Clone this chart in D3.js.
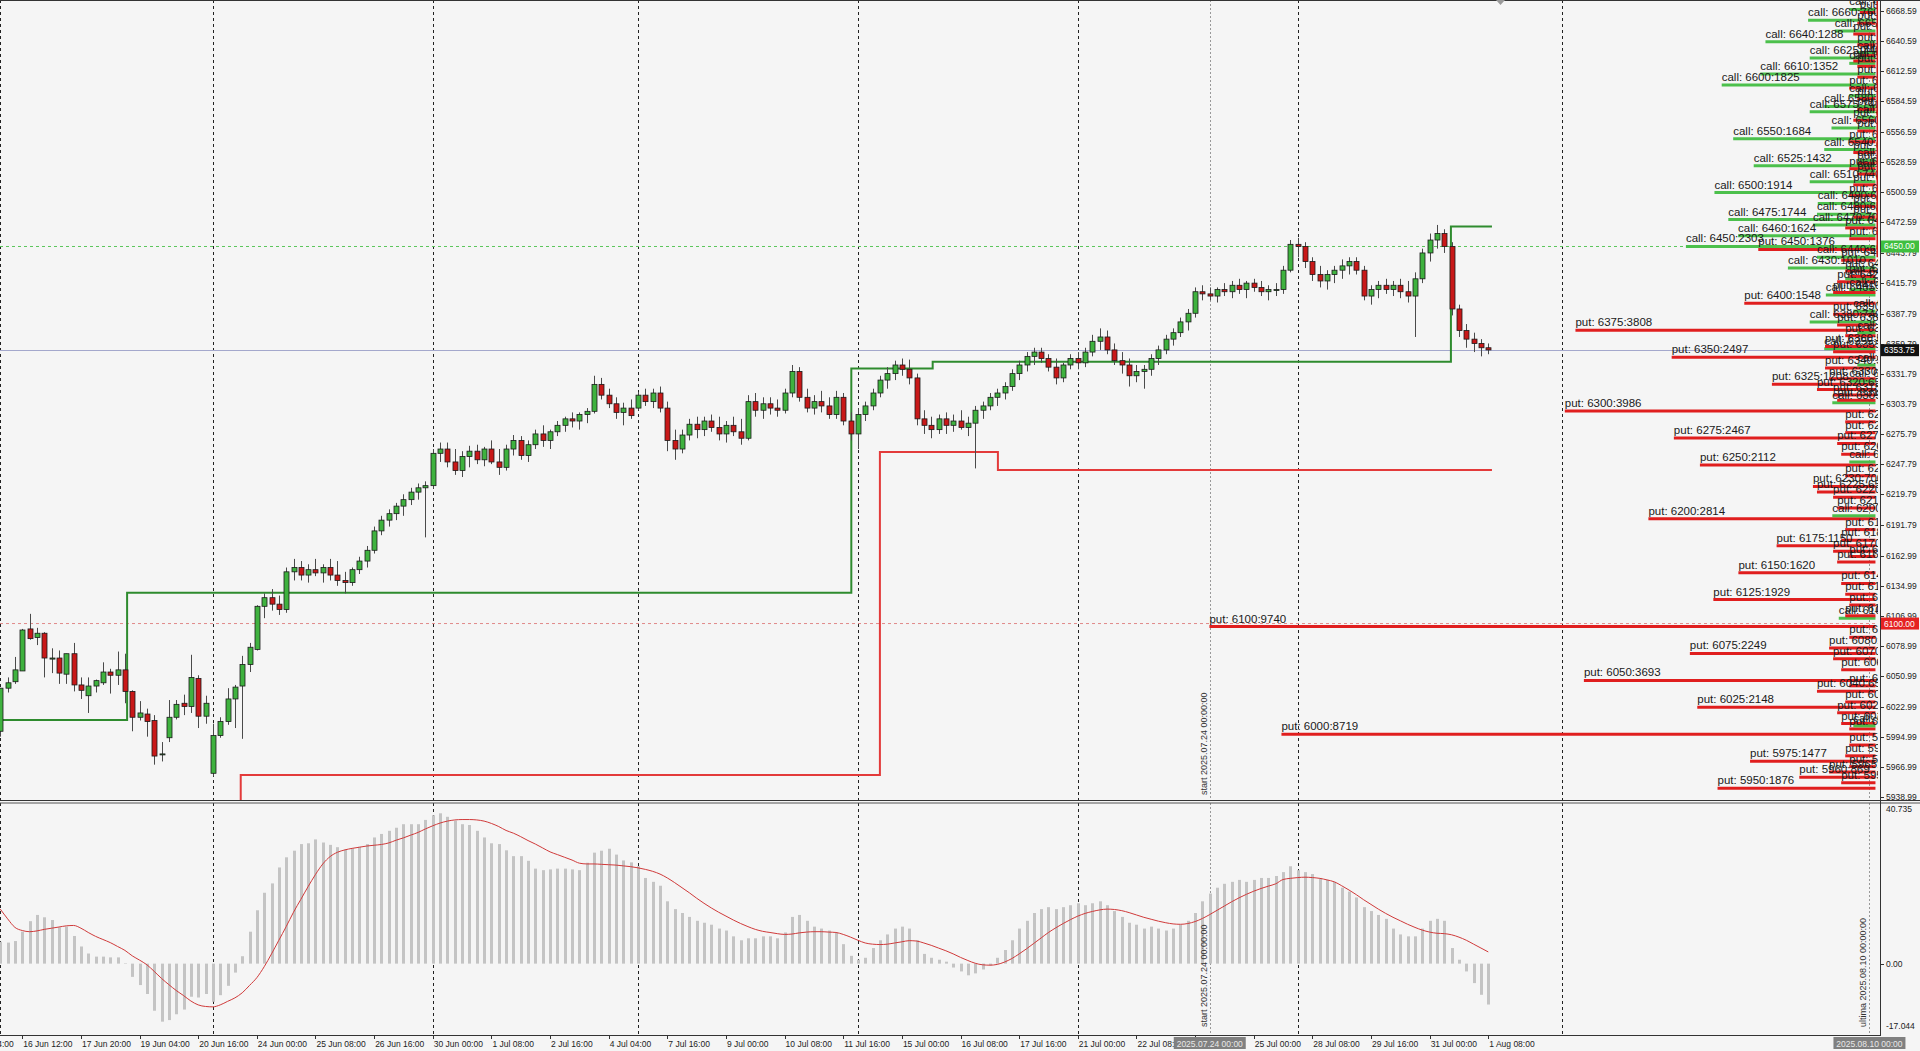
<!DOCTYPE html>
<html><head><meta charset="utf-8">
<script src="https://cdn.jsdelivr.net/npm/d3@7"></script>
<style>
html,body{margin:0;padding:0;background:#f5f5f5;}
svg{display:block;font-family:"Liberation Sans",Arial,sans-serif;}
</style></head>
<body><svg id="chart" width="1920" height="1051"></svg>
<script>
// ---------------- DATA ----------------
const opens = [6000,6040,6046,6056,6095,6087,6091,6067,6068,6053,6072,6043,6033,6042,6045,6055,6052,6057,6037,6013,6016,6010,5979,5994,6013,6026,6023,6049,6014,5961,5996,6009,6030,6042,6062,6076,
6116,6124,6118,6113,6148,6152,6145,6150,6147,6152,6145,6140,6138,6150,6158,6168,6186,6196,6202,6209,6215,6222,6226,6228,6258,6262,6250,6242,6255,6260,6252,6262,6250,6245,6262,6270,6256,6266,6276,6270,6278,6284,6290,6288,6294,6297,6322,6312,6304,6296,6300,6300,6312,6306,6314,6300,6270,6262,6275,6285,6280,6288,6282,6276,6284,6278,6272,6306,6298,6304,6300,6298,6314,6334,6310,6300,6306,6302,6294,6310,6288,6276,6294,6302,6314,6326,6332,6340,6336,6328,6290,6284,6280,6290,6284,6288,6282,6286,6298,6302,6310,6314,6320,6332,6340,6348,6352,6346,6338,6328,6340,6346,6342,6352,6362,6366,6354,6344,6340,6330,6334,6336,6346,6354,6364,6370,6380,6388,6408,6406,6404,6410,6408,6414,6410,6416,6412,6408,6410,6410,6428,6452,6450,6436,6424,6418,6424,6428,6432,6436,6428,6404,6410,6414,6410,6414,6408,6404,6420,6444,6456,6462,6450,6392,6372,6364,6360,6356];
const highs = [6040,6050,6069,6095,6109,6096,6092,6077,6075,6072,6082,6050,6050,6048,6064,6058,6074,6072,6038,6028,6021,6015,5990,6029,6029,6034,6071,6052,6033,6007,6013,6040,6043,6070,6082,6117,
6128,6132,6126,6152,6160,6158,6155,6160,6155,6160,6158,6148,6152,6162,6172,6190,6200,6206,6212,6220,6226,6230,6232,6262,6268,6268,6262,6260,6265,6266,6264,6270,6262,6266,6275,6274,6270,6280,6284,6280,6288,6292,6296,6296,6300,6330,6328,6318,6310,6305,6308,6315,6318,6318,6320,6306,6280,6280,6290,6292,6292,6294,6292,6288,6292,6290,6312,6314,6310,6310,6308,6318,6340,6338,6318,6312,6316,6310,6316,6314,6296,6300,6306,6318,6330,6338,6344,6346,6345,6332,6298,6292,6294,6296,6294,6298,6292,6302,6306,6314,6318,6324,6336,6344,6352,6356,6356,6350,6346,6342,6350,6352,6356,6368,6374,6372,6360,6352,6346,6340,6340,6350,6358,6368,6374,6384,6392,6412,6414,6412,6412,6416,6418,6420,6418,6420,6418,6414,6416,6432,6456,6458,6454,6440,6432,6428,6432,6438,6440,6440,6432,6414,6418,6420,6418,6420,6418,6426,6448,6462,6470,6466,6454,6396,6378,6370,6364,6360];
const lows = [5995,6036,6044,6056,6085,6080,6050,6054,6044,6044,6037,6030,6017,6036,6043,6035,6043,6026,6000,6010,5995,5969,5972,5990,6011,6015,6017,6003,6007,5958,5994,6006,6003,5993,6055,6075,
6105,6112,6108,6110,6140,6140,6138,6144,6138,6140,6135,6128,6135,6146,6152,6165,6182,6190,6196,6200,6210,6215,6180,6225,6250,6245,6238,6236,6245,6248,6246,6248,6238,6242,6256,6252,6250,6262,6264,6262,6274,6278,6282,6280,6286,6295,6308,6300,6290,6284,6290,6298,6302,6300,6296,6260,6252,6258,6270,6272,6274,6278,6270,6268,6274,6266,6270,6292,6290,6294,6292,6295,6310,6306,6296,6294,6296,6290,6290,6284,6270,6262,6288,6298,6310,6318,6326,6330,6322,6284,6276,6272,6276,6276,6278,6280,6274,6244,6290,6298,6302,6308,6316,6326,6334,6340,6342,6334,6322,6324,6336,6336,6338,6348,6354,6350,6340,6332,6320,6324,6318,6330,6340,6350,6358,6366,6372,6384,6400,6400,6398,6404,6402,6406,6402,6408,6404,6400,6404,6406,6426,6440,6430,6418,6412,6410,6416,6420,6424,6424,6400,6396,6402,6406,6404,6402,6398,6366,6416,6436,6448,6444,6386,6366,6356,6352,6348,6350];
const closes = [6040,6045,6057,6094,6086,6091,6068,6068,6054,6072,6043,6038,6042,6047,6055,6052,6057,6037,6013,6017,6009,5977,5979,6013,6025,6023,6050,6014,6026,5996,6009,6030,6041,6062,6078,6116,
6124,6118,6113,6148,6152,6145,6150,6147,6152,6145,6140,6138,6150,6158,6168,6186,6196,6202,6209,6215,6222,6226,6228,6258,6262,6250,6242,6255,6260,6252,6262,6250,6245,6262,6270,6256,6266,6276,6270,6278,6284,6290,6288,6294,6297,6322,6312,6304,6296,6300,6293,6312,6306,6314,6300,6270,6262,6275,6285,6280,6288,6282,6276,6284,6278,6272,6306,6298,6304,6300,6298,6314,6334,6310,6300,6306,6302,6294,6310,6288,6276,6294,6302,6314,6326,6332,6340,6336,6328,6290,6284,6280,6290,6284,6288,6282,6286,6298,6302,6310,6314,6320,6332,6340,6348,6352,6346,6338,6328,6340,6346,6342,6352,6362,6366,6354,6344,6340,6330,6334,6336,6346,6354,6364,6370,6380,6388,6408,6406,6404,6410,6408,6414,6410,6416,6412,6408,6410,6410,6428,6452,6450,6436,6424,6418,6424,6428,6432,6436,6428,6404,6410,6414,6410,6414,6408,6404,6420,6444,6456,6462,6450,6392,6372,6364,6360,6356,6354];

const macdHist = [5.6,5.4,5.8,8.2,10.9,12.5,11.9,11.2,9.3,9.5,7.1,4.4,2.6,1.8,1.8,1.6,1.6,0.1,-3.4,-5.5,-7.8,-12.1,-14.9,-14.5,-13.0,-11.8,-8.5,-8.7,-7.8,-9.8,-8.1,-5.7,-2.3,1.9,8.2,13.7,18.2,20.6,24.7,27.3,29.0,30.7,30.9,31.9,31.1,30.5,29.9,29.3,29.6,30.0,30.7,32.4,33.3,34.1,34.9,35.8,35.8,35.8,36.9,38.1,38.6,37.7,36.7,35.8,35.6,34.1,32.4,30.9,30.7,29.1,27.6,27.6,26.4,24.4,24.0,24.2,24.4,24.4,24.2,24.0,25.9,28.5,
29,29.5,28,26.5,26,25,22,21,20,16,14,13,12,11,10.5,10,9,8.5,7,6,6.5,6.5,7,7,6.5,8,12,12.5,11,9.5,9,8.5,8,5,2,1,1.5,4,6,7.5,9,9.5,9,6,2.5,1.5,1,0.5,-1,-2,-3,-2.5,-1.5,-0.5,1.5,3.5,6,9,11,13,14,14.5,14,14.5,15,15.5,15,15.5,16,15,13.5,12,10.5,10,9,9.5,9,8.5,9,10,11,13,16,18,19.5,20.5,21,21.5,21,21.5,22,22,22.5,23.5,25,24,23.5,23,22,21.5,21,19.5,18.5,17,14.5,13.5,12.5,11.5,9,7.5,7,7,9,11,11.5,11,4,1,-2,-5,-8,-10.5];
const macdSignal = [14,11.5,9.3,8.5,8.2,8.4,8.8,9.1,9.4,9.7,9.8,9.1,8.0,7.0,6.2,5.4,4.4,3.4,2.0,0.9,-0.3,-2.0,-3.8,-5.4,-6.9,-8.2,-9.6,-10.6,-11.0,-11.1,-10.6,-9.7,-8.8,-7.5,-5.6,-3.6,-0.8,2.5,6.0,9.5,13.2,16.5,19.8,22.9,25.6,27.5,28.6,29.2,29.6,29.9,30.2,30.4,30.6,31.0,31.7,32.3,33.0,33.7,34.6,35.4,36.1,36.6,36.9,37.0,37.0,36.9,36.6,36.0,35.2,34.2,33.5,32.6,31.6,30.7,29.7,28.7,28.0,27.3,26.6,25.8,25.6,25.6,
25.5,25.4,25.3,25.1,24.9,24.6,24.2,23.7,23.0,22.0,20.8,19.5,18.2,16.8,15.5,14.3,13.2,12.2,11.2,10.3,9.5,8.8,8.3,8.0,7.7,7.5,7.6,7.9,8.1,8.2,8.2,8.1,8.0,7.5,6.8,6.0,5.3,5.0,4.9,5.0,5.3,5.6,5.9,5.8,5.3,4.7,4.0,3.3,2.5,1.6,0.8,0.1,-0.3,-0.4,-0.2,0.4,1.3,2.5,3.8,5.2,6.6,8.0,9.2,10.3,11.3,12.2,12.9,13.4,13.8,14.0,13.9,13.6,13.1,12.5,11.9,11.4,10.9,10.5,10.2,10.1,10.3,10.8,11.6,12.6,13.7,14.8,15.9,16.9,17.8,18.6,19.3,19.9,20.5,21.6,21.9,22.1,22.2,22.1,21.9,21.5,21.0,20.0,18.9,17.7,16.4,15.2,14.0,12.9,11.9,11.0,10.1,9.3,8.6,8.1,7.8,7.7,7.4,6.8,6.0,5.0,4.0,3.0];

const priceTicks = [6668.59,6640.59,6612.59,6584.59,6556.59,6528.59,6500.59,6472.59,6443.79,6415.79,6387.79,6359.79,6331.79,6303.79,6275.79,6247.79,6219.79,6191.79,6162.99,6134.99,6106.99,6078.99,6050.99,6022.99,5994.99,5966.99,5938.99];
const macdTicks = [40.735, 0, -17.044];
const timeLabels = ["13 Jun 04:00","16 Jun 12:00","17 Jun 20:00","19 Jun 04:00","20 Jun 16:00","24 Jun 00:00","25 Jun 08:00","26 Jun 16:00","30 Jun 00:00","1 Jul 08:00","2 Jul 16:00","4 Jul 04:00","7 Jul 16:00","9 Jul 00:00","10 Jul 08:00","11 Jul 16:00","15 Jul 00:00","16 Jul 08:00","17 Jul 16:00","21 Jul 00:00","22 Jul 08:00","23 Jul 16:00","25 Jul 00:00","28 Jul 08:00","29 Jul 16:00","31 Jul 00:00","1 Aug 08:00"];
const timeLabelBars = [-5,3,11,19,27,35,43,51,59,67,75,83,91,99,107,115,123,131,139,147,155,163,171,179,187,195,203];
const weekGridBars = [0,29,59,87,117,147,177,213];
const startBar = 165, ultimaBar = 255;
const startText = "start 2025.07.24 00:00:00", ultimaText = "ultima 2025.08.10 00:00:00";
const startBoxText = "2025.07.24 00:00", ultimaBoxText = "2025.08.10 00:00";

const greenLevelBars = [0,17.3,116.1,127.2,197.9,203.5];
const greenLevelValues = [6010.5,6128.6,6336.7,6343,6468.5,6468.5];
const redLevelBars = [32.8,32.8,120,136.1,203.5];
const redLevelValues = [5925,5959.4,6259.2,6242.5,6242.5];

const currentPrice = 6353.75, callWall = 6450, putWall = 6100;

const callOI = [[6670,250],[6660,760],[6650,430],[6640,1288],[6630,150],[6625,740],[6620,250],[6610,1352],[6600,1825],[6590,250],[6580,560],[6575,740],[6570,150],[6560,470],[6550,1684],[6540,560],[6530,150],[6525,1432],[6520,150],[6510,740],[6500,1914],[6490,640],[6480,650],[6475,1744],[6470,700],[6460,1624],[6450,2303],[6440,650],[6430,1010],[6420,300],[6410,250],[6405,540],[6390,200],[6380,740],[6370,150],[6355,560],[6340,150],[6325,250],[6305,460],[6250,250],[6200,460],[6105,380],[6005,200]];
const putOI = [[5950,1876],[5955,350],[5960,869],[5965,500],[5970,250],[5975,1477],[5980,300],[5990,250],[6000,8719],[6005,250],[6010,350],[6020,400],[6025,2148],[6030,300],[6040,650],[6045,250],[6050,3693],[6060,350],[6070,450],[6075,2249],[6080,500],[6090,250],[6100,9740],[6110,300],[6120,250],[6125,1929],[6130,300],[6140,350],[6150,1620],[6160,400],[6165,250],[6170,450],[6175,1150],[6180,350],[6190,300],[6200,2814],[6210,400],[6220,450],[6225,650],[6230,700],[6240,300],[6250,2112],[6260,350],[6270,400],[6275,2467],[6280,300],[6290,300],[6300,3986],[6310,400],[6315,450],[6320,650],[6325,1208],[6330,500],[6340,550],[6350,2497],[6355,450],[6360,550],[6370,300],[6375,3808],[6380,400],[6390,450],[6400,1548],[6410,450],[6420,400],[6425,250],[6430,300],[6440,350],[6450,1376],[6460,250],[6470,300],[6480,200],[6490,200],[6500,250],[6510,200],[6520,150],[6525,250],[6530,150],[6540,200],[6550,250],[6560,150],[6570,200],[6580,150],[6590,150],[6600,250],[6610,150],[6620,150],[6625,200],[6630,120],[6640,150],[6650,200],[6660,150],[6670,120]];

// ---------------- LAYOUT ----------------
const svg = d3.select("#chart");
const plotRight = 1880;
const mainTop = 0, mainBottom = 800, macdTop = 803, macdBottom = 1035;
const x = d3.scaleLinear().domain([0, 256]).range([0.3, 0.3 + 256 * 7.33]);
const y = d3.scaleLinear().domain([5938.99, 6668.59]).range([797, 797 - 729.6 * 1.0773]);
const ym = d3.scaleLinear().domain([-17.044, 40.735]).range([1030, 805]);
const oiLen = d3.scaleLinear().domain([0, 1288, 1914, 3808, 8719, 9740]).range([0, 104, 155, 294, 588, 660]);

svg.append("rect").attr("width", 1920).attr("height", 1051).attr("fill", "#f5f5f5");
const defs = svg.append("defs");
defs.append("clipPath").attr("id", "clipMain").append("rect").attr("x", 0).attr("y", mainTop).attr("width", plotRight - 2).attr("height", mainBottom - mainTop);
defs.append("clipPath").attr("id", "clipMacd").append("rect").attr("x", 0).attr("y", macdTop).attr("width", plotRight).attr("height", macdBottom - macdTop);

const gMain = svg.append("g").attr("clip-path", "url(#clipMain)");
const gMacd = svg.append("g").attr("clip-path", "url(#clipMacd)");

// week grid lines
[gMain, gMacd].forEach((g, k) => {
  g.selectAll("line.grid").data(weekGridBars).join("line")
    .attr("x1", d => Math.round(x(d)) + 0.5).attr("x2", d => Math.round(x(d)) + 0.5)
    .attr("y1", k ? macdTop : mainTop).attr("y2", k ? macdBottom : mainBottom)
    .attr("stroke", "#222").attr("stroke-width", 1).attr("stroke-dasharray", "3,3");
  g.selectAll("line.mk").data([startBar, ultimaBar]).join("line")
    .attr("x1", d => Math.round(x(d)) + 0.5).attr("x2", d => Math.round(x(d)) + 0.5)
    .attr("y1", k ? macdTop : mainTop).attr("y2", k ? macdBottom : mainBottom)
    .attr("stroke", "#999").attr("stroke-width", 1).attr("stroke-dasharray", "2,2");
});

// horizontal price lines
gMain.append("line").attr("x1", 0).attr("x2", plotRight).attr("y1", y(callWall)).attr("y2", y(callWall))
  .attr("stroke", "#5cc65c").attr("stroke-dasharray", "3,3");
gMain.append("line").attr("x1", 0).attr("x2", plotRight).attr("y1", y(putWall)).attr("y2", y(putWall))
  .attr("stroke", "#e08a8a").attr("stroke-dasharray", "3,3");
gMain.append("line").attr("x1", 0).attr("x2", plotRight).attr("y1", Math.round(y(currentPrice)) + 0.5).attr("y2", Math.round(y(currentPrice)) + 0.5)
  .attr("stroke", "#a4a8cc").attr("stroke-width", 1);

// level step lines
const stepLine = d3.line().x(d => x(d[0])).y(d => y(d[1])).curve(d3.curveStepAfter);
gMain.append("path").datum(greenLevelBars.map((b, i) => [b, greenLevelValues[i]]))
  .attr("d", stepLine).attr("fill", "none").attr("stroke", "#2e8b2e").attr("stroke-width", 2);
gMain.append("path").datum(redLevelBars.map((b, i) => [b, redLevelValues[i]]))
  .attr("d", stepLine).attr("fill", "none").attr("stroke", "#e33a3a").attr("stroke-width", 2);

// candles
const candles = closes.map((c, i) => ({ i, o: opens[i], h: highs[i], l: lows[i], c }));
gMain.selectAll("line.wick").data(candles).join("line")
  .attr("x1", d => Math.round(x(d.i)) + 0.5).attr("x2", d => Math.round(x(d.i)) + 0.5)
  .attr("y1", d => y(d.h)).attr("y2", d => y(d.l)).attr("stroke", "#4a4a4a").attr("stroke-width", 1);
gMain.selectAll("rect.body").data(candles).join("rect")
  .attr("x", d => Math.round(x(d.i)) - 2).attr("width", 5)
  .attr("y", d => y(Math.max(d.o, d.c))).attr("height", d => Math.max(1, Math.abs(y(d.o) - y(d.c))))
  .attr("fill", d => d.c >= d.o ? "#3fb23f" : "#c81818").attr("stroke", "#1a1a1a").attr("stroke-width", 0.8);

// option open-interest lines
const optEnd = x(ultimaBar);
const opts = callOI.map(d => ({ t: "call", k: d[0], oi: d[1] })).concat(putOI.map(d => ({ t: "put", k: d[0], oi: d[1] })));
opts.sort((a, b) => b.oi - a.oi);
const ly = d => y(d.k) + (d.t === "put" ? 3 : 0);
gMain.selectAll("line.opt").data(opts).join("line")
  .attr("x1", d => optEnd - oiLen(d.oi)).attr("x2", optEnd + 6)
  .attr("y1", ly).attr("y2", ly)
  .attr("stroke", d => d.t === "call" ? "#4cc04c" : "#e01e1e").attr("stroke-width", 3);
gMain.selectAll("text.opt").data(opts).join("text")
  .attr("x", d => optEnd - oiLen(d.oi)).attr("y", d => ly(d) - 4)
  .attr("font-size", 11.5).attr("fill", "#1a1a1a")
  .text(d => `${d.t}: ${d.k}:${d.oi}`);
// red marker along axis top
gMain.append("line").attr("x1", plotRight - 2.5).attr("x2", plotRight - 2.5).attr("y1", 0).attr("y2", y(6440))
  .attr("stroke", "#c81818").attr("stroke-width", 2);

// start text (main)
gMain.append("text").attr("transform", `translate(${x(startBar) - 2.5},795) rotate(-90)`)
  .attr("font-size", 9).attr("fill", "#333").text(startText);

// MACD
gMacd.selectAll("rect.h").data(macdHist).join("rect")
  .attr("x", (d, i) => Math.round(x(i)) - 1).attr("width", 3)
  .attr("y", d => Math.min(ym(0), ym(d))).attr("height", d => Math.max(0.5, Math.abs(ym(d) - ym(0))))
  .attr("fill", "#c4c4c4");
gMacd.append("path").datum(macdSignal)
  .attr("d", d3.line().x((d, i) => x(i)).y(d => ym(d)).curve(d3.curveMonotoneX))
  .attr("fill", "none").attr("stroke", "#d03a3a").attr("stroke-width", 1);
gMacd.append("text").attr("transform", `translate(${x(startBar) - 2.5},1027) rotate(-90)`)
  .attr("font-size", 9).attr("fill", "#333").text(startText);
gMacd.append("text").attr("transform", `translate(${x(ultimaBar) - 3.5},1027) rotate(-90)`)
  .attr("font-size", 9).attr("fill", "#333").text(ultimaText);

// frame lines
const frame = svg.append("g").attr("stroke", "#333").attr("stroke-width", 1);
frame.append("line").attr("x1", 0).attr("x2", 1920).attr("y1", 0.5).attr("y2", 0.5);
frame.append("line").attr("x1", 0).attr("x2", 1920).attr("y1", 800.5).attr("y2", 800.5);
frame.append("line").attr("x1", 0).attr("x2", 1920).attr("y1", 803).attr("y2", 803).attr("stroke", "#555");
frame.append("line").attr("x1", 0).attr("x2", plotRight).attr("y1", 1035.5).attr("y2", 1035.5);
frame.append("line").attr("x1", plotRight + 0.5).attr("x2", plotRight + 0.5).attr("y1", 0).attr("y2", 1036);

// chart-shift marker
svg.append("path").attr("d", "M1496,0 L1505,0 L1500.5,5 Z").attr("fill", "#999");

// price axis
const pa = svg.append("g").attr("font-size", 8.5).attr("fill", "#222");
pa.selectAll("line").data(priceTicks).join("line")
  .attr("x1", plotRight).attr("x2", plotRight + 4).attr("y1", d => Math.round(y(d)) + 0.5).attr("y2", d => Math.round(y(d)) + 0.5)
  .attr("stroke", "#333");
pa.selectAll("text").data(priceTicks).join("text")
  .attr("x", plotRight + 6).attr("y", d => y(d) + 3).text(d => d.toFixed(2));

// price boxes
const boxes = [
  { v: callWall, bg: "#3fbf3f", fg: "#fff" },
  { v: currentPrice, bg: "#111", fg: "#fff" },
  { v: putWall, bg: "#e52222", fg: "#fff" }
];
const bx = svg.append("g").selectAll("g").data(boxes).join("g");
bx.append("rect").attr("x", plotRight + 1).attr("y", d => y(d.v) - 6).attr("width", 38).attr("height", 12).attr("fill", d => d.bg);
bx.append("text").attr("x", plotRight + 4).attr("y", d => y(d.v) + 3).attr("font-size", 8.5).attr("fill", d => d.fg).text(d => d.v.toFixed(2));

// MACD axis
const ma = svg.append("g").attr("font-size", 8.5).attr("fill", "#222");
ma.selectAll("text").data(macdTicks).join("text")
  .attr("x", plotRight + 6)
  .attr("y", (d, i) => i === 0 ? ym(d) + 7 : (i === 2 ? ym(d) - 1 : ym(d) + 3))
  .text(d => d === 0 ? "0.00" : String(d));
ma.append("line").attr("x1", plotRight).attr("x2", plotRight + 4).attr("y1", Math.round(ym(0)) + 0.5).attr("y2", Math.round(ym(0)) + 0.5).attr("stroke", "#333");

// time axis
const ta = svg.append("g").attr("font-size", 8.5).attr("fill", "#222");
ta.selectAll("line").data(timeLabelBars).join("line")
  .attr("x1", d => Math.round(x(d)) + 0.5).attr("x2", d => Math.round(x(d)) + 0.5)
  .attr("y1", 1035).attr("y2", 1039).attr("stroke", "#333");
ta.selectAll("text").data(timeLabels).join("text")
  .attr("x", (d, i) => x(timeLabelBars[i]) + 1).attr("y", 1047).text(d => d);

const tb = svg.append("g").selectAll("g").data([[startBar, startBoxText], [ultimaBar, ultimaBoxText]]).join("g");
tb.append("rect").attr("x", d => x(d[0]) - 36).attr("y", 1037).attr("width", 72).attr("height", 12).attr("fill", "#808080");
tb.append("text").attr("x", d => x(d[0])).attr("y", 1046.5).attr("text-anchor", "middle").attr("font-size", 8.5).attr("fill", "#e8e8e8").text(d => d[1]);
</script>
</body></html>
